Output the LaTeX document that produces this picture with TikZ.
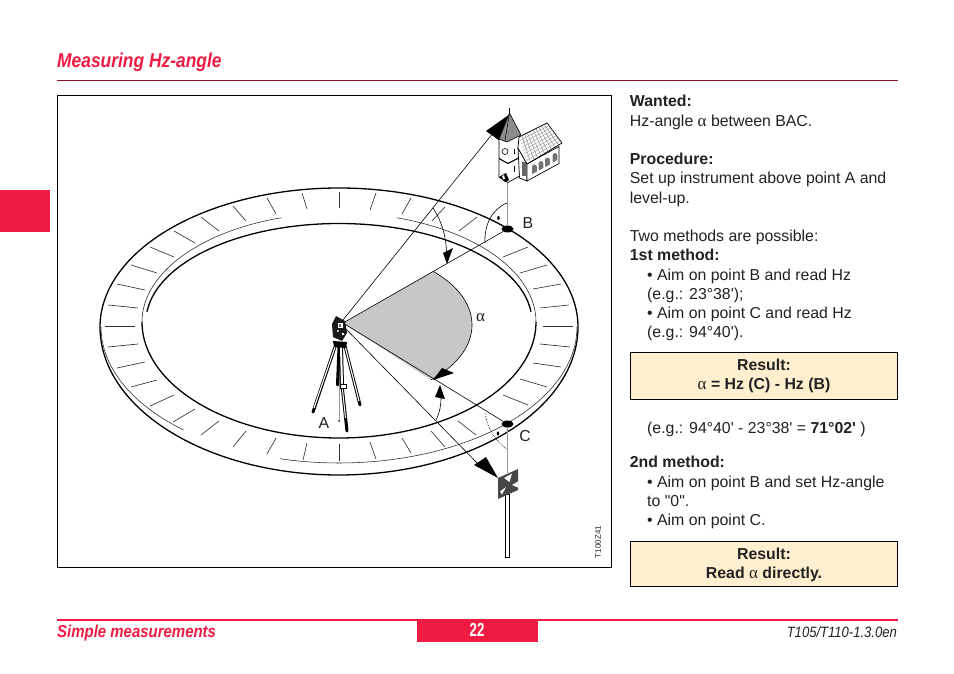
\documentclass[tikz,border=0pt]{standalone}
\usepackage{fontspec}
\usetikzlibrary{shapes.geometric,calc}
\newfontfamily\tf{Liberation Sans}
\newfontfamily\cf[FakeStretch=0.87]{Liberation Sans}
\newfontfamily\cg[FakeStretch=0.7]{Liberation Sans}
\newfontfamily\gf{Liberation Serif}
\definecolor{lred}{HTML}{EF1B43}
\definecolor{lbox}{HTML}{FFEFCF}
\definecolor{ltext}{HTML}{222222}
\newcommand\al{{\gf\mdseries\fontsize{17}{19}\selectfont\char"03B1}}
\tikzset{
 txt/.style={anchor=base west,inner sep=0pt,yshift=-0.8pt,text=ltext,font=\tf\fontsize{15.85}{19}\selectfont},
 ctxt/.style={anchor=base,inner sep=0pt,yshift=-0.8pt,text=ltext,font=\tf\bfseries\fontsize{15.85}{19}\selectfont},
 lab/.style={anchor=center,inner sep=0pt,text=ltext,font=\tf\fontsize{15.85}{19}\selectfont},
 thickl/.style={line width=1.3pt,black},
 thinl/.style={line width=0.55pt,black!85},
 tick/.style={line width=0.65pt,black!80},
 fine/.style={line width=0.6pt,black},
 plumb/.style={line width=1pt,black!40},
 resbox/.style={draw=black,line width=0.9pt,fill=lbox},
 blackhead/.style={fill=black,draw=none},
 dotn/.style={ellipse,fill=black,draw=none,inner sep=0pt,minimum width=12pt,minimum height=7pt},
 legl/.style={line width=3pt,black,line cap=round},
 legi/.style={line width=1.1pt,white},
}
\begin{document}
\begin{tikzpicture}[x=1pt,y=-1pt]
\useasboundingbox (0,0) rectangle (954,674);
\fill[white] (0,0) rectangle (954,674);
% page furniture
\node[anchor=base west,inner sep=0pt,text=lred,font=\cf\bfseries\itshape\fontsize{20}{24}\selectfont] (title) at (57,68) {Measuring Hz-angle};
\draw[line width=0.7pt,lred!60!black] (57,80) -- (898,80);
\fill[lred] (0,190) rectangle (50,232);
\draw[line width=0.8pt,black] (57.5,95.5) rectangle (611.5,567.5);
% ring
\draw[thickl] plot[domain=180:360,samples=160] ({339+239*cos(\x)},{327+139*sin(\x)});
\draw[thickl] plot[domain=0:180,samples=160] ({339+239*cos(\x)},{327+148*sin(\x)});
\draw[thinl] plot[domain=0:104.4,samples=80] ({339+238*cos(\x)},{327+136*sin(\x)});
\draw[thinl] plot[domain=130.8:180,samples=40] ({339+238*cos(\x)},{327+136*sin(\x)});
\draw[thickl] plot[domain=0:180,samples=160] ({339+197*cos(\x)},{322+116*sin(\x)});
\draw[thickl] plot[domain=186:354,samples=160] ({339+193*cos(\x)},{322+98.5*sin(\x)});
\draw[thinl] plot[domain=180:253,samples=80] ({339+197*cos(\x)},{322+109*sin(\x)});
\draw[thinl] plot[domain=287:360,samples=80] ({339+197*cos(\x)},{322+109*sin(\x)});
% graduation ticks
\foreach \a/\b/\c/\d in {105/326/135/326,108/305/138/308,117/284/145/290,131/265/157/273,150/247/174/257,174/231/195/243,201/217/219/231,233/206/246/221,267/198/276/214,302/193/307/209,339/192/339/208,376/193/370/210,411/198/402/214,445/207/432/221,477/217/459/231,528/247/503/257,547/265/520/273,561/284/533/289,569/305/540/308,573/326/543/326,570/347/540/344,561/367/533/363,547/387/520/379,528/405/503/395,476/435/458/421,445/447/431/431,411/453/402/438,376/459/370/442,339/461/339/444,303/460/307/443,267/454/276/438,233/447/246/431,201/435/219/421,173/422/195/409,150/406/174/395,131/387/157/380,117/368/145/362,108/347/138/344}
  \draw[tick] (\a,\b) -- (\c,\d);
% key points
\coordinate (O) at (343,323);
\node[dotn] (B) at (507.5,229) {};
\node[dotn] (C) at (507.5,424) {};
% wedge
\fill[black!22] (O) -- plot[domain=-45.8:47,samples=60] ({343+129*cos(\x)},{325+75*sin(\x)}) -- cycle;
\draw[fine] plot[domain=-45.8:47,samples=60] ({343+129*cos(\x)},{325+75*sin(\x)});
\draw[fine] (O) -- (B);
\draw[fine] (O) -- (C);
% sights
\coordinate (churchaim) at (493,133);
\coordinate (targetaim) at (481,467);
\draw[fine] (343,320) -- (churchaim);
\draw[fine] (344,327) -- (targetaim);
\draw[plumb] (B) -- (507.5,183);
\draw[plumb] (C) -- (507.5,473);
% arcs
\draw[fine] (507,203) .. controls (492,209) and (484,225) .. (485,243);
\fill (498.5,218) ellipse (1.3pt and 2pt);
\draw[fine,densely dotted] (485,413) .. controls (487,428) and (496,442) .. (507,449);
\fill (498,433.5) ellipse (1.3pt and 2pt);
\draw[fine] (433,208) .. controls (441,220) and (446,235) .. (446.5,252);
\draw[fine] (436,420) .. controls (440,412) and (441,405) .. (441,397);
% arrowheads
\fill[blackhead] (510,114) -- (486,131) -- (500,141) -- cycle;
\fill[blackhead] (447,264) -- (443,253) -- (453,248) -- cycle;
\fill[blackhead] (433,380) -- (442,368) -- (454,373) -- cycle;
\fill[blackhead] (440,385) -- (435,397) -- (445,399) -- cycle;
\fill[blackhead] (498,478) -- (474,465) -- (486,457) -- cycle;
% target
\draw[line width=0.8pt,black,fill=white] (505.8,494) rectangle (509.2,557);
\fill[black!72] (498,478) -- (518,469) -- (518,490) -- (498,499) -- cycle;
\fill[white] (504,478) -- (512,473.5) -- (509.5,482) -- cycle;
\fill[white] (512,485) -- (518,481.5) -- (518,487.5) -- cycle;
\fill[white] (500,491.5) -- (506,487) -- (502,494.5) -- cycle;
% church
\draw[line width=0.7pt,black,fill=white] (499,139) -- (499,177) -- (508,182.5) -- (519.5,176) -- (519.5,136.5);
\draw[line width=1.1pt,black] (499,158.5) -- (508,163.5) -- (519.5,157.5);
\fill[black!45] (509.5,113) -- (499,139) -- (507,142) -- (521,135) -- cycle;
\draw[line width=0.6pt,black] (509.5,113) -- (499,139) -- (507,142) -- (521,135) -- cycle;
\draw[line width=0.5pt,black] (509.5,113) -- (505,140.5);
\draw[line width=1pt,black] (509.5,113) -- (509.5,108);
\draw[line width=0.6pt,black] (505,151.5) circle (3pt);
\draw[line width=0.8pt,black] (514.5,149) -- (514.5,154);
\draw[line width=0.8pt,black] (514.5,166) -- (514.5,172);
\fill[black] (499,177) -- (506,173) -- (509,180) -- (505,182) -- cycle;
\fill[white] (502,176) -- (504,175) -- (505,179) -- (503,179.5) -- cycle;
% nave
\draw[line width=0.7pt,black,fill=white] (518,148) -- (527,164) -- (527,181) -- (519.5,178) -- cycle;
\draw[line width=0.7pt,black,fill=white] (527,164) -- (559,146.5) -- (559,163.5) -- (527,181) -- cycle;
\draw[line width=0.7pt,black,fill=white] (519,137) -- (547,123) -- (562,143) -- (527,164) -- (518,148) -- cycle;
\foreach \t in {0.1,0.2,...,0.95}
  \draw[line width=0.35pt,black!55] ($(519,137)!\t!(547,123)$) -- ($(527,164)!\t!(562,143)$);
\foreach \t in {0.125,0.25,...,0.9}
  \draw[line width=0.35pt,black!45] ($(519,137)!\t!(527,164)$) -- ($(547,123)!\t!(562,143)$);
\foreach \px/\py in {534.5/168,541/164.5,547.5/161,555/156.5}
  \fill[black!55] (\px-2.4,\py+6) -- (\px-2.4,\py-1) arc[start angle=180,end angle=0,radius=2.4pt] -- (\px+2.4,\py+3.5) -- cycle;
\fill[black!60] (522,162) rectangle (525.5,176);
% tripod
\draw[plumb] (339,346) -- (339,421);
\fill (339,421) circle (0.9pt);
\draw[legl] (335,347) -- (313,412);
\draw[legi] (335,347) -- (314,408);
\draw[legl] (345,346) -- (360,405);
\draw[legi] (345,346) -- (359,401);
\draw[legl] (339,347) -- (337.5,385);
\draw[legl,line width=4pt] (341,347) -- (342,385);
\draw[legi,line width=2pt] (341,347) -- (342,385);
\draw[legl,line width=3pt] (342,385) -- (347,431);
\draw[legi,line width=1pt] (342,385) -- (345.5,418);
\fill[white,draw=black,line width=0.5pt] (340,384) rectangle (346,388);
% instrument
\fill[black] (333,341) -- (347,342) -- (346,348) -- (334,347) -- cycle;
\fill[black!90] (336,316) -- (345,321) -- (347,333) -- (342,341) -- (333,337) -- (332,324) -- cycle;
\fill[white] (338,323) rectangle (343,328);
\fill[white] (338,331) circle (1.2pt);
\fill[white] (343,334) circle (1.4pt);
\fill[black!60] (339,324) rectangle (341,327);
% letters
\node[lab] (lB) at (528,223) {B};
\node[lab] (lC) at (525,436.5) {C};
\node[lab] (lA) at (324,423.5) {A};
\node[lab,font=\gf\fontsize{17}{19}\selectfont] (lal) at (480.5,318) {\char"03B1};
\node[lab,rotate=90,font=\tf\fontsize{8}{9}\selectfont] (code) at (598,542) {T100Z41};
% column
\node[txt] (t1) at (629.7,106) {\bfseries Wanted:};
\node[txt] (t2) at (629.7,126) {Hz-angle \al{} between BAC.};
\node[txt] (t3) at (629.7,164) {\bfseries Procedure:};
\node[txt] (t4) at (629.7,183) {Set up instrument above point A and};
\node[txt] (t5) at (629.7,203) {level-up.};
\node[txt] (t6) at (629.7,241) {Two methods are possible:};
\node[txt] (t7) at (629.7,260) {\bfseries 1st method:};
\node[txt] (t8) at (647,280) {• Aim on point B and read Hz};
\node[txt] (t9) at (647,299) {(e.g.: 23°38');};
\node[txt] (t10) at (647,318) {• Aim on point C and read Hz};
\node[txt] (t11) at (647,337) {(e.g.: 94°40').};
\draw[resbox] (630,352.5) rectangle (897.5,399.5);
\node[ctxt] (r1) at (764,370) {Result:};
\node[ctxt] (r2) at (764,389) {\al{} = Hz (C) - Hz (B)};
\node[txt] (t12) at (647,433) {(e.g.: 94°40' - 23°38' = \textbf{71°02'} )};
\node[txt] (t13) at (629.7,467) {\bfseries 2nd method:};
\node[txt] (t14) at (647,487) {• Aim on point B and set Hz-angle};
\node[txt] (t15) at (647,506) {to "0".};
\node[txt] (t16) at (647,525) {• Aim on point C.};
\draw[resbox] (630,541) rectangle (897.5,586.5);
\node[ctxt] (r3) at (764,559) {Result:};
\node[ctxt] (r4) at (764,578) {Read \al{} directly.};
% footer
\draw[line width=2pt,lred] (57,620) -- (898,620);
\fill[lred] (417,620) rectangle (538,642);
\node[anchor=base,inner sep=0pt,text=white,font=\cg\bfseries\fontsize{19}{20}\selectfont] (pg) at (477,636) {22};
\node[anchor=base west,inner sep=0pt,text=lred,font=\cf\bfseries\itshape\fontsize{17.2}{20}\selectfont] (ft) at (57,637) {Simple measurements};
\node[anchor=base east,inner sep=0pt,text=ltext,font=\cf\itshape\fontsize{15}{18}\selectfont] (fr) at (897,637) {T105/T110-1.3.0en};
\end{tikzpicture}
\end{document}
